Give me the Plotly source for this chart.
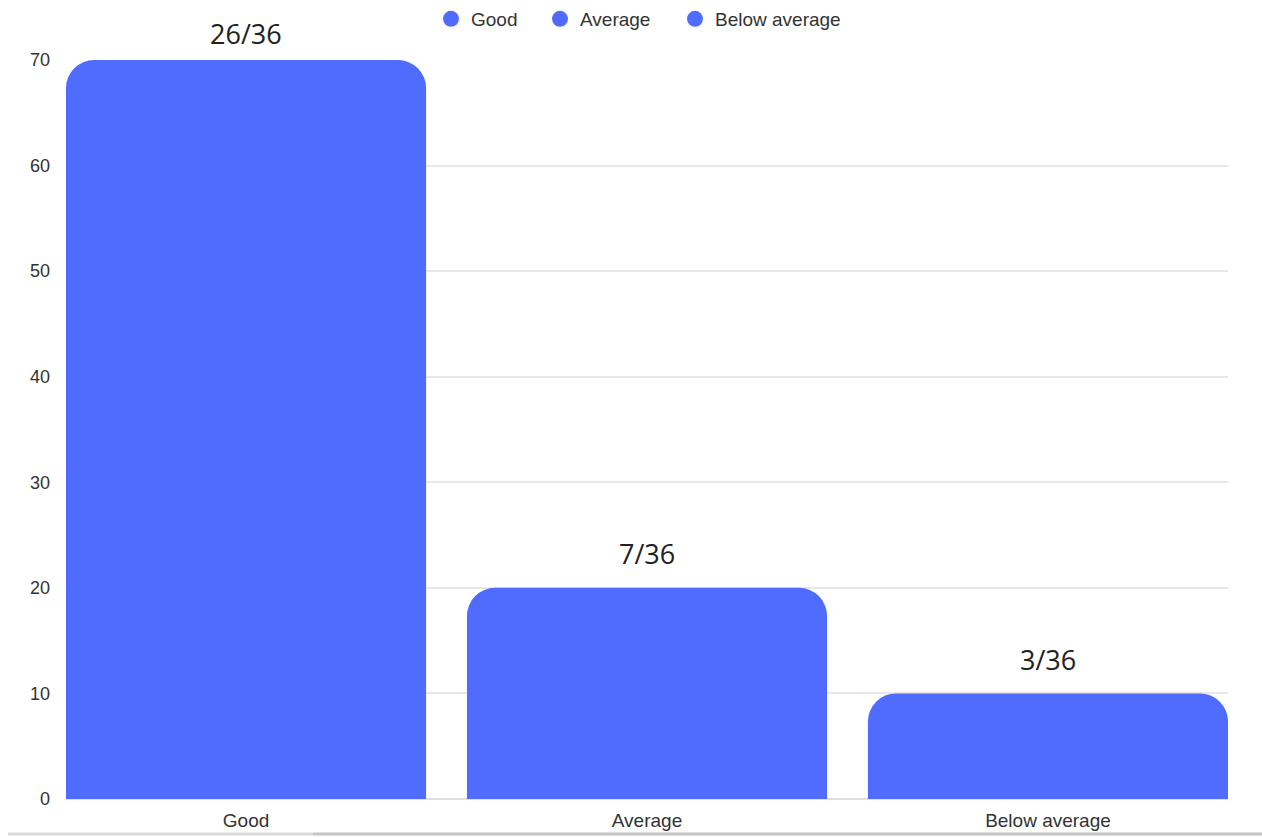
import plotly.graph_objects as go

categories = ["Good", "Average", "Below average"]
values = [70, 20, 10]
bar_labels = ["26/36", "7/36", "3/36"]
y_ticks = [0, 10, 20, 30, 40, 50, 60, 70]

BLUE = "#4F6CFF"
L, R, T, B = 66, 34, 60, 38
W, H = 1262, 837
PW, PH = W - L - R, H - T - B
Y_MAX = 70

fig = go.Figure()
fig.add_trace(go.Bar(
    x=categories, y=values, marker=dict(color=BLUE, line=dict(width=0)),
    showlegend=False, hoverinfo="x+y",
))

legend_ids = ["legend", "legend2", "legend3"]
legend_px = [453, 562, 697]  # symbol centres in pixels
for c, lid in zip(categories, legend_ids):
    fig.add_trace(go.Scatter(
        x=[None], y=[None], mode="markers", name=c, legend=lid,
        marker=dict(color=BLUE, size=16, symbol="circle"),
    ))

for c, v, t in zip(categories, values, bar_labels):
    bar_top_px = T + PH * (1 - v / Y_MAX)
    shift = min(34, bar_top_px - 33)  # keep label inside the top of the canvas
    fig.add_annotation(
        x=c, y=v, text=t, showarrow=False, yanchor="middle", yshift=shift,
        font=dict(family="Open Sans, Noto Sans, sans-serif", size=27, color="#222222"),
    )

legend_common = dict(
    orientation="h", yanchor="middle", y=1 + (T - 19) / PH, xanchor="left",
    font=dict(size=19, color="#333333"), itemclick=False, bgcolor="rgba(0,0,0,0)",
)
legends = {}
for lid, px in zip(legend_ids, legend_px):
    legends[lid] = dict(legend_common, x=(px - 22 - L) / PW)

# thin gray strip at the very bottom (screenshot edge)
yb = -(834 - (T + PH)) / PH
fig.add_shape(type="line", xref="paper", yref="paper",
              x0=(8 - L) / PW, x1=(313 - L) / PW, y0=yb, y1=yb,
              line=dict(color="#d9d9d9", width=3))
fig.add_shape(type="line", xref="paper", yref="paper",
              x0=(313 - L) / PW, x1=(W - L) / PW, y0=yb, y1=yb,
              line=dict(color="#c4c4c4", width=3))

fig.update_layout(
    width=W, height=H,
    margin=dict(l=L, r=R, t=T, b=B, autoexpand=False),
    paper_bgcolor="white", plot_bgcolor="white",
    barcornerradius=28,
    bargap=0.102,
    font=dict(family="Liberation Sans, Arial, sans-serif", size=18, color="#333333"),
    xaxis=dict(
        range=[-0.449, 2.449], showgrid=False, showline=False, zeroline=False,
        ticks="", ticklabelstandoff=8, tickfont=dict(size=19, color="#333333"),
    ),
    yaxis=dict(
        range=[0, Y_MAX], tickvals=y_ticks, showgrid=True, gridcolor="#e8e8e8",
        gridwidth=1.5, zeroline=True, zerolinecolor="#e0e0e0", showline=False,
        ticks="", ticklabelstandoff=15, tickfont=dict(size=18, color="#333333"),
    ),
    **legends,
)

fig.write_html("out.html")
